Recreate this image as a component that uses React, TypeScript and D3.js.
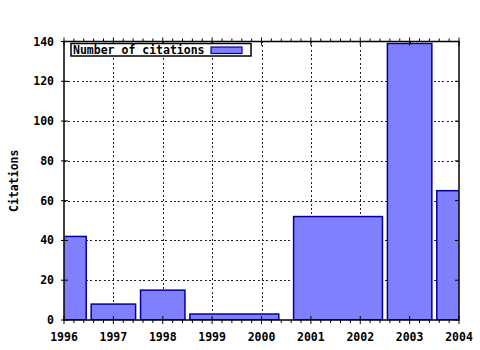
import React from "react";
import * as d3 from "d3";

const binStart = [1995.55, 1996.55, 1997.55, 1998.55, 2000.65, 2002.55, 2003.55];
const binEnd = [1996.45, 1997.45, 1998.45, 2000.35, 2002.45, 2003.45, 2004.45];
const citations = [42, 8, 15, 3, 52, 139, 65];
const xTicks = [1996, 1997, 1998, 1999, 2000, 2001, 2002, 2003, 2004];
const yTicks = [0, 20, 40, 60, 80, 100, 120, 140];
const legendLabel = "Number of citations";
const yLabel = "Citations";

const W = 480, H = 350;
const m = { left: 64, top: 41.5, right: 21, bottom: 30 };
const FONT = "'DejaVu Sans Mono', 'Liberation Mono', monospace";

export default function App() {
  const x = d3.scaleLinear().domain([1996, 2004]).range([m.left, W - m.right]);
  const y = d3.scaleLinear().domain([0, 140]).range([H - m.bottom, m.top]);
  const x0 = x.range()[0], x1 = x.range()[1];
  const y0 = y.range()[0], y1 = y.range()[1];
  const minor = d3.range(1996, 2004.001, 0.2).filter(v => Math.abs(v - Math.round(v)) > 0.01);

  return (
    <svg width={W} height={H} style={{ position: "absolute", left: 0, top: 0, background: "#fff" }}>
      <defs>
        <clipPath id="plot">
          <rect x={x0} y={y1} width={x1 - x0} height={y0 - y1} />
        </clipPath>
      </defs>
      {/* grid */}
      <g stroke="#222" strokeWidth={1} strokeDasharray="2,2.4" shapeRendering="crispEdges">
        {xTicks.slice(1, -1).map(t => (
          <line key={"gx" + t} x1={Math.round(x(t)) + 0.5} x2={Math.round(x(t)) + 0.5} y1={y0} y2={y1} />
        ))}
        {yTicks.slice(1, -1).map(t => (
          <line key={"gy" + t} x1={x0} x2={x1} y1={Math.round(y(t)) + 0.5} y2={Math.round(y(t)) + 0.5} />
        ))}
      </g>
      {/* bars */}
      <g clipPath="url(#plot)">
        {citations.map((v, i) => (
          <rect key={i} x={x(binStart[i])} y={y(v)} width={x(binEnd[i]) - x(binStart[i])} height={y(0) - y(v)}
            fill="#8080ff" stroke="#000099" strokeWidth={1.5} />
        ))}
      </g>
      {/* frame */}
      <g stroke="#000" strokeWidth={1.5} fill="none">
        <rect x={x0} y={y1} width={x1 - x0} height={y0 - y1} />
      </g>
      {/* ticks */}
      <g stroke="#000" strokeWidth={1}>
        {xTicks.map(t => (
          <g key={"tx" + t}>
            <line x1={x(t)} x2={x(t)} y1={y0 - 4} y2={y0 + 4} />
            <line x1={x(t)} x2={x(t)} y1={y1 - 4} y2={y1 + 4} />
          </g>
        ))}
        {minor.map(t => (
          <g key={"mx" + t}>
            <line x1={x(t)} x2={x(t)} y1={y0} y2={y0 + 3} />
            <line x1={x(t)} x2={x(t)} y1={y1} y2={y1 - 3} />
          </g>
        ))}
        {yTicks.map(t => (
          <g key={"ty" + t}>
            <line x1={x0 - 3} x2={x0 + 4} y1={y(t)} y2={y(t)} />
            <line x1={x1 - 4} x2={x1} y1={y(t)} y2={y(t)} />
          </g>
        ))}
      </g>
      {/* tick labels */}
      <g fontFamily={FONT} fontSize={11.5} fontWeight="bold" fill="#000">
        {xTicks.map(t => (
          <text key={"lx" + t} x={x(t)} y={341} textAnchor="middle">{t}</text>
        ))}
        {yTicks.map(t => (
          <text key={"ly" + t} x={54} y={y(t) + 4} textAnchor="end">{t}</text>
        ))}
      </g>
      {/* y label */}
      <text transform={`translate(18,${(y0 + y1) / 2}) rotate(-90)`} textAnchor="middle"
        fontFamily={FONT} fontSize={11.5} fontWeight="bold" fill="#000">{yLabel}</text>
      {/* legend */}
      <g>
        <rect x={71} y={43.5} width={180} height={12.5} fill="#fff" stroke="#000" strokeWidth={1.5} />
        <text x={73} y={54} fontFamily={FONT} fontSize={11.5} fontWeight="bold" fill="#000">{legendLabel}</text>
        <rect x={211} y={47} width={31} height={6.5} fill="#8080ff" stroke="#000099" strokeWidth={1.2} />
      </g>
    </svg>
  );
}
